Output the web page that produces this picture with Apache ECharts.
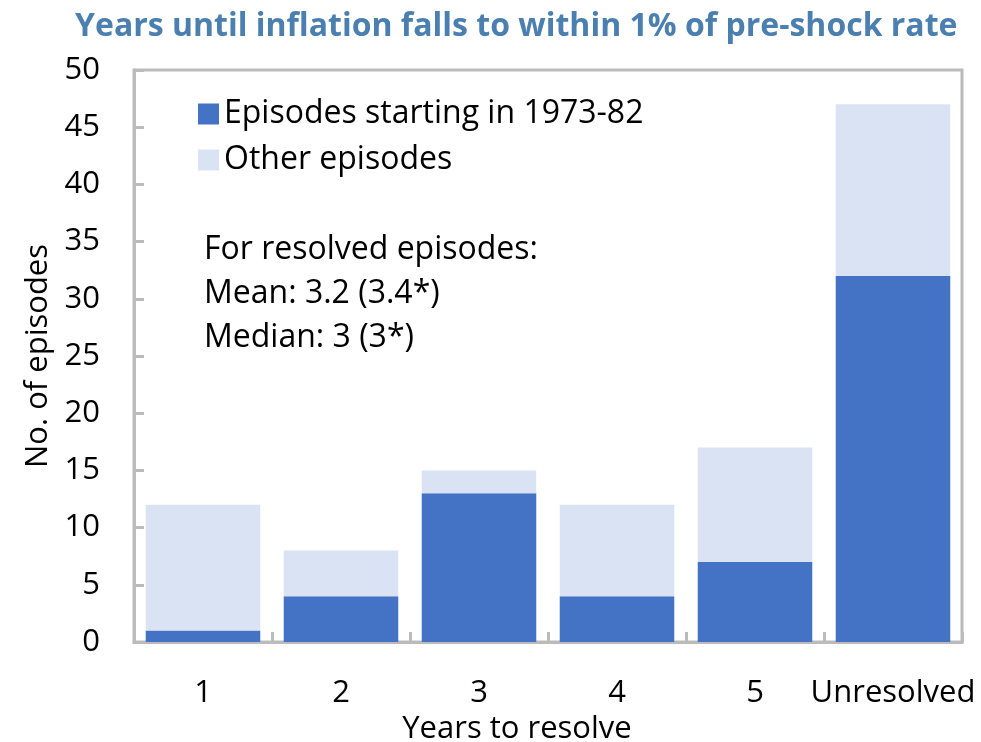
<!DOCTYPE html>
<html>
<head>
<meta charset="utf-8">
<script src="https://cdn.jsdelivr.net/npm/echarts@6/dist/echarts.min.js"></script>
<style>
  html, body { margin: 0; padding: 0; background: #fff; }
  #chart { width: 981px; height: 742px; }
</style>
</head>
<body>
<div id="chart"></div>
<script>
var categories = ["1", "2", "3", "4", "5", "Unresolved"];
var episodes7382 = [1, 4, 13, 4, 7, 32];
var otherEpisodes = [11, 4, 2, 8, 10, 15];
var noteLines = ["For resolved episodes:", "Mean: 3.2 (3.4*)", "Median: 3 (3*)"];

var font = "Open Sans";
var myChart = echarts.init(document.getElementById("chart"));

var option = {
  animation: false,
  textStyle: { fontFamily: font },
  title: {
    text: "Years until inflation falls to within 1% of pre-shock rate",
    left: 70,
    top: 6,
    textStyle: { color: "#4a7fb0", fontSize: 32, fontWeight: "bold", fontFamily: font }
  },
  legend: {
    orient: "vertical",
    left: 193,
    top: 93,
    itemWidth: 21,
    itemHeight: 21,
    itemGap: 14,
    selectedMode: false,
    textStyle: { fontSize: 32, color: "#000", fontFamily: font },
    data: [
      { name: "Episodes starting in 1973-82", icon: "rect" },
      { name: "Other episodes", icon: "rect" }
    ]
  },
  grid: {
    left: 134,
    right: 19,
    top: 70,
    bottom: 100,
    outerBoundsMode: "none",
    show: true,
    borderColor: "#bbbbbb",
    borderWidth: 3
  },
  xAxis: {
    type: "category",
    data: categories,
    name: "Years to resolve",
    nameLocation: "middle",
    nameGap: 70,
    nameTextStyle: { fontSize: 31, color: "#000", fontFamily: font, padding: [0, 62, 0, 0] },
    axisLine: { lineStyle: { color: "#bbbbbb", width: 3 } },
    axisTick: { show: true, inside: true, length: 10, lineStyle: { color: "#bbbbbb", width: 3 } },
    axisLabel: { interval: 0, fontSize: 31, color: "#000", margin: 36, fontFamily: font }
  },
  yAxis: {
    type: "value",
    min: 0,
    max: 50,
    interval: 5,
    name: "No. of episodes",
    nameLocation: "middle",
    nameGap: 80,
    nameTextStyle: { fontSize: 31, color: "#000", fontFamily: font },
    axisLine: { show: true, lineStyle: { color: "#bbbbbb", width: 3 } },
    axisTick: { show: true, inside: true, length: 10, lineStyle: { color: "#bbbbbb", width: 3 } },
    splitLine: { show: false },
    axisLabel: { fontSize: 31, color: "#000", margin: 34, fontFamily: font }
  },
  graphic: [
    {
      type: "text",
      left: 204,
      top: 228,
      style: {
        text: noteLines.join("\n"),
        font: "32px '" + font + "'",
        lineHeight: 44,
        fill: "#000"
      }
    }
  ],
  series: [
    {
      name: "Episodes starting in 1973-82",
      type: "bar",
      stack: "total",
      barCategoryGap: "17%",
      itemStyle: { color: "#4472c4" },
      data: episodes7382
    },
    {
      name: "Other episodes",
      type: "bar",
      stack: "total",
      barCategoryGap: "17%",
      itemStyle: { color: "#dae3f3" },
      data: otherEpisodes
    }
  ]
};

myChart.setOption(option);
</script>
</body>
</html>
